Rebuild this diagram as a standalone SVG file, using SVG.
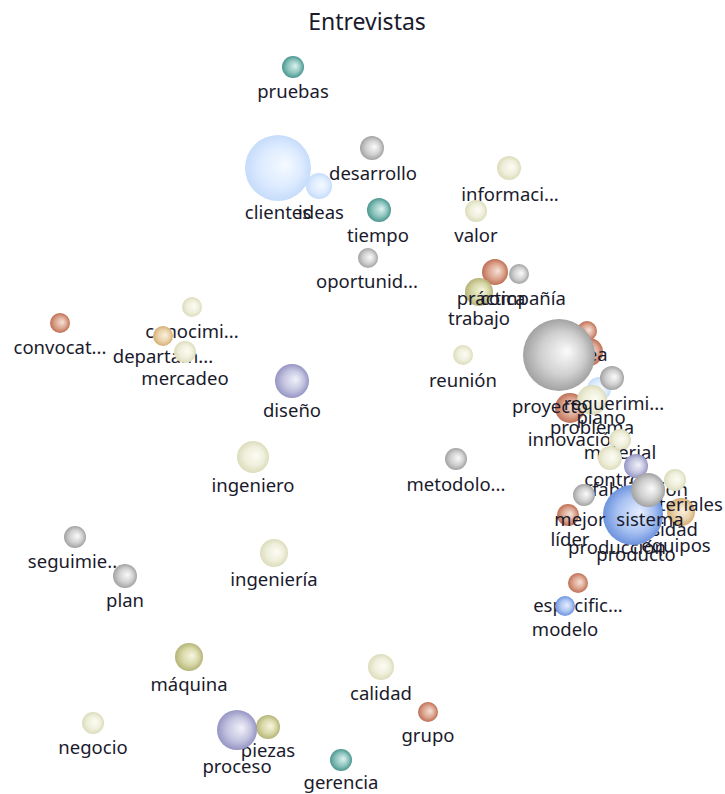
<svg xmlns="http://www.w3.org/2000/svg" width="725" height="794" viewBox="0 0 725 794">
  <defs>
    <radialGradient id="g-gray" cx="0.5" cy="0.5" r="0.5" fx="0.62" fy="0.45">
      <stop offset="0" stop-color="#fbfbfb"/>
      <stop offset="0.6" stop-color="#d0d0d0"/>
      <stop offset="1" stop-color="#a2a2a2"/>
    </radialGradient>
    <radialGradient id="g-teal" cx="0.5" cy="0.5" r="0.5" fx="0.62" fy="0.45">
      <stop offset="0" stop-color="#dff2ef"/>
      <stop offset="0.6" stop-color="#8cc4bd"/>
      <stop offset="1" stop-color="#4d9690"/>
    </radialGradient>
    <radialGradient id="g-sky" cx="0.5" cy="0.5" r="0.5" fx="0.62" fy="0.45">
      <stop offset="0" stop-color="#f5faff"/>
      <stop offset="0.6" stop-color="#deecff"/>
      <stop offset="1" stop-color="#c6dcfb"/>
    </radialGradient>
    <radialGradient id="g-pale" cx="0.5" cy="0.5" r="0.5" fx="0.62" fy="0.45">
      <stop offset="0" stop-color="#fcfcf4"/>
      <stop offset="0.6" stop-color="#efefdc"/>
      <stop offset="1" stop-color="#dcdcbc"/>
    </radialGradient>
    <radialGradient id="g-olive" cx="0.5" cy="0.5" r="0.5" fx="0.62" fy="0.45">
      <stop offset="0" stop-color="#f6f6e2"/>
      <stop offset="0.6" stop-color="#d8d8a8"/>
      <stop offset="1" stop-color="#b4b478"/>
    </radialGradient>
    <radialGradient id="g-rust" cx="0.5" cy="0.5" r="0.5" fx="0.62" fy="0.45">
      <stop offset="0" stop-color="#f6e2d8"/>
      <stop offset="0.6" stop-color="#dba48e"/>
      <stop offset="1" stop-color="#bf6f55"/>
    </radialGradient>
    <radialGradient id="g-lav" cx="0.5" cy="0.5" r="0.5" fx="0.62" fy="0.45">
      <stop offset="0" stop-color="#f2f2fb"/>
      <stop offset="0.6" stop-color="#c4c4e0"/>
      <stop offset="1" stop-color="#9595c4"/>
    </radialGradient>
    <radialGradient id="g-tan" cx="0.5" cy="0.5" r="0.5" fx="0.62" fy="0.45">
      <stop offset="0" stop-color="#faf0e0"/>
      <stop offset="0.6" stop-color="#ead2aa"/>
      <stop offset="1" stop-color="#d6ad74"/>
    </radialGradient>
    <radialGradient id="g-blue" cx="0.5" cy="0.5" r="0.5" fx="0.62" fy="0.45">
      <stop offset="0" stop-color="#e6eeff"/>
      <stop offset="0.6" stop-color="#a9c2f2"/>
      <stop offset="1" stop-color="#6d93de"/>
    </radialGradient>
  </defs>
  <style>
    text { font-family: "Noto Sans", "Open Sans", "DejaVu Sans", sans-serif; font-size: 18.5px; fill: #1a1a2c; text-anchor: middle; }
    .title { font-size: 23px; }
    .gray { fill: url(#g-gray); }
    .teal { fill: url(#g-teal); }
    .sky { fill: url(#g-sky); }
    .pale { fill: url(#g-pale); }
    .olive { fill: url(#g-olive); }
    .rust { fill: url(#g-rust); }
    .lav { fill: url(#g-lav); }
    .tan { fill: url(#g-tan); }
    .blue { fill: url(#g-blue); }
  </style>

  <rect width="725" height="794" fill="#ffffff"/>
  <text class="title" x="367" y="30">Entrevistas</text>

  <!-- no links between terms; the group is kept for structure -->
  <g id="connectors"/>

  <g id="nodes">
    <g id="n-pruebas"><circle class="teal" cx="293" cy="67" r="11"/><text x="293" y="98">pruebas</text></g>
    <g id="n-clientes"><circle class="sky" cx="278" cy="168" r="33"/><text x="278" y="219">clientes</text></g>
    <g id="n-ideas"><circle class="sky" cx="319" cy="186" r="13"/><text x="321" y="219">ideas</text></g>
    <g id="n-desarrollo"><circle class="gray" cx="372" cy="148" r="12"/><text x="373" y="180">desarrollo</text></g>
    <g id="n-tiempo"><circle class="teal" cx="379" cy="210" r="12"/><text x="378" y="242">tiempo</text></g>
    <g id="n-oportunidad"><circle class="gray" cx="368" cy="258" r="10"/><text x="367" y="288">oportunid...</text></g>
    <g id="n-informacion"><circle class="pale" cx="509" cy="168" r="12"/><text x="510" y="201">informaci...</text></g>
    <g id="n-valor"><circle class="pale" cx="476" cy="211" r="11"/><text x="476" y="242">valor</text></g>

    <g id="n-compania"><circle class="gray" cx="519" cy="274" r="10"/></g>
    <g id="n-practica"><circle class="rust" cx="495" cy="272" r="13"/></g>
    <g id="n-trabajo"><circle class="olive" cx="479" cy="292" r="14"/><text x="479" y="325">trabajo</text></g>
    <g id="n-practica-label"><text x="491" y="305">práctica</text></g>
    <g id="n-compania-label"><text x="523" y="305">compañía</text></g>

    <g id="n-convocatoria"><circle class="rust" cx="60" cy="323" r="10"/><text x="60" y="354">convocat...</text></g>
    <g id="n-conocimiento"><circle class="pale" cx="192" cy="307" r="10"/><text x="192" y="338">conocimi...</text></g>
    <g id="n-departamento"><circle class="tan" cx="163" cy="336" r="10"/><text x="163" y="363">departam...</text></g>
    <g id="n-mercadeo"><circle class="pale" cx="185" cy="352" r="11"/><text x="185" y="385">mercadeo</text></g>
    <g id="n-diseno"><circle class="lav" cx="292" cy="381" r="17"/><text x="292" y="417">diseño</text></g>
    <g id="n-reunion"><circle class="pale" cx="463" cy="355" r="10"/><text x="463" y="387">reunión</text></g>

    <!-- dense group on the right, upper part -->
    <g id="n-empresa"><circle class="rust" cx="589" cy="352" r="14"/></g>
    <g id="n-tarea"><circle class="rust" cx="587" cy="331" r="10"/><text x="585" y="361">tarea</text></g>
    <g id="n-innovacion"><circle class="rust" cx="570" cy="408" r="15"/><text x="575" y="446">innovación</text></g>
    <g id="n-plano"><circle class="sky" cx="599" cy="389" r="12"/><text x="601" y="424">plano</text></g>
    <g id="n-problema"><circle class="pale" cx="592" cy="400" r="15"/><text x="592" y="434">problema</text></g>
    <g id="n-proyecto"><circle class="gray" cx="559" cy="355" r="36"/><text x="550" y="413">proyecto</text></g>
    <g id="n-requerimiento"><circle class="gray" cx="612" cy="378" r="12"/><text x="614" y="410">requerimi...</text></g>

    <g id="n-metodologia"><circle class="gray" cx="456" cy="459" r="11"/><text x="456" y="491">metodolo...</text></g>
    <g id="n-ingeniero"><circle class="pale" cx="253" cy="457" r="16"/><text x="253" y="492">ingeniero</text></g>

    <!-- dense group on the right, lower part -->
    <g id="n-material"><circle class="pale" cx="620" cy="440" r="11"/><text x="620" y="459">material</text></g>
    <g id="n-control"><circle class="pale" cx="610" cy="458" r="12"/><text x="615" y="486">control</text></g>
    <g id="n-fabricacion"><circle class="lav" cx="636" cy="466" r="12"/><text x="640" y="496">fabricación</text></g>
    <g id="n-equipos"><circle class="tan" cx="681" cy="512" r="14"/><text x="676" y="552">equipos</text></g>
    <g id="n-materiales"><circle class="pale" cx="675" cy="480" r="11"/><text x="677" y="511">materiales</text></g>
    <g id="n-necesidad"><circle class="gray" cx="640" cy="505" r="8"/><text x="654" y="536">necesidad</text></g>
    <g id="n-produccion"><circle class="gray" cx="620" cy="525" r="8"/><text x="617" y="554">producción</text></g>
    <g id="n-lider"><circle class="rust" cx="568" cy="515" r="11"/><text x="570" y="546">líder</text></g>
    <g id="n-producto"><circle class="blue" cx="633" cy="515" r="30"/><text x="636" y="561">producto</text></g>
    <g id="n-mejor"><circle class="gray" cx="584" cy="495" r="11"/><text x="580" y="526">mejor</text></g>
    <g id="n-sistema"><circle class="gray" cx="648" cy="490" r="17"/><text x="650" y="526">sistema</text></g>

    <g id="n-especificacion"><circle class="rust" cx="578" cy="583" r="10"/><text x="578" y="612">especific...</text></g>
    <g id="n-modelo"><circle class="blue" cx="565" cy="606" r="10"/><text x="565" y="636">modelo</text></g>

    <g id="n-seguimiento"><circle class="gray" cx="75" cy="537" r="11"/><text x="75" y="568">seguimie...</text></g>
    <g id="n-plan"><circle class="gray" cx="125" cy="576" r="12"/><text x="125" y="607">plan</text></g>
    <g id="n-ingenieria"><circle class="pale" cx="274" cy="553" r="14"/><text x="274" y="586">ingeniería</text></g>

    <g id="n-maquina"><circle class="olive" cx="189" cy="657" r="14"/><text x="189" y="691">máquina</text></g>
    <g id="n-calidad"><circle class="pale" cx="381" cy="667" r="13"/><text x="381" y="700">calidad</text></g>
    <g id="n-grupo"><circle class="rust" cx="428" cy="712" r="10"/><text x="428" y="742">grupo</text></g>
    <g id="n-negocio"><circle class="pale" cx="93" cy="723" r="11"/><text x="93" y="754">negocio</text></g>
    <g id="n-piezas"><circle class="olive" cx="268" cy="727" r="12"/><text x="268" y="757">piezas</text></g>
    <g id="n-proceso"><circle class="lav" cx="237" cy="730" r="20"/><text x="237" y="773">proceso</text></g>
    <g id="n-gerencia"><circle class="teal" cx="341" cy="760" r="11"/><text x="341" y="789">gerencia</text></g>
  </g>
</svg>
